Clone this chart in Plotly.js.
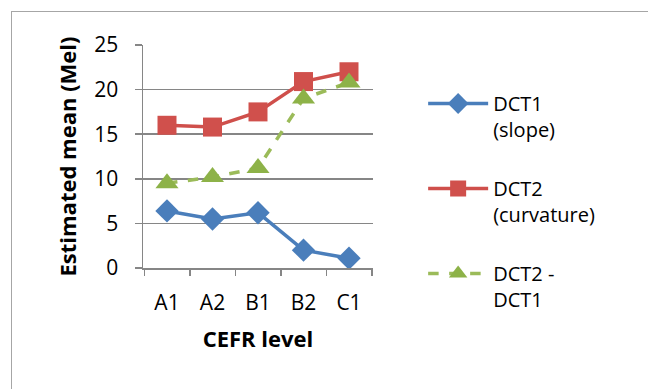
<!DOCTYPE html>
<html>
<head>
<meta charset="utf-8">
<script src="https://cdn.plot.ly/plotly-3.0.1.min.js"></script>
<style>
  html, body { margin: 0; padding: 0; background: #fff; }
  #wrap { position: relative; width: 648px; height: 389px; overflow: hidden; }
  #frame { position: absolute; left: 11px; top: 11px; width: 700px; height: 450px; border: 1.5px solid #a6a6a6; box-sizing: border-box; pointer-events: none; }
  #chart { position: absolute; left: 0; top: 0; width: 648px; height: 389px; }
</style>
</head>
<body>
<div id="wrap">
  <div id="chart"></div>
  <div id="frame"></div>
</div>
<script>
const categories = ["A1", "A2", "B1", "B2", "C1"];
const dct1Slope = [6.4, 5.5, 6.2, 2.0, 1.1];
const dct2Curvature = [16.0, 15.8, 17.5, 20.9, 22.0];
const dct2MinusDct1 = [9.5, 10.2, 11.2, 19.0, 20.8];
const yTicks = [0, 5, 10, 15, 20, 25];

const font = "Open Sans, Noto Sans, sans-serif";

const traces = [
  {
    x: categories, y: dct1Slope, name: "DCT1<br>(slope)", legendgroup: "g1",
    mode: "lines+markers", type: "scatter",
    line: { color: "#4a7ebb", width: 3.5 },
    marker: { symbol: "diamond", size: 18, color: "#4a7ebb" }
  },
  {
    x: categories, y: dct2Curvature, name: "DCT2<br>(curvature)", legendgroup: "g2",
    mode: "lines+markers", type: "scatter",
    line: { color: "#cf4f4b", width: 3.5 },
    marker: { symbol: "square", size: 19, color: "#d0504c" }
  },
  {
    x: categories, y: dct2MinusDct1, name: "DCT2 -<br>DCT1", legendgroup: "g3",
    mode: "lines+markers", type: "scatter",
    line: { color: "#9bbb59", width: 3.5, dash: "dash" },
    marker: { symbol: "triangle-up", size: 20, color: "#8db248" }
  }
];

const layout = {
  width: 648, height: 389,
  margin: { l: 143, r: 275, t: 45, b: 121 },
  paper_bgcolor: "rgba(0,0,0,0)",
  plot_bgcolor: "#ffffff",
  showlegend: true,
  font: { family: font, color: "#000", size: 20 },
  xaxis: {
    type: "category",
    tickvals: categories,
    showline: true, linecolor: "#868686", linewidth: 1.5,
    ticks: "outside", tickson: "boundaries", ticklen: 6, tickcolor: "#868686", tickwidth: 1.5,
    showgrid: false, zeroline: false,
    tickfont: { family: font, size: 21, color: "#000" },
    ticklabelstandoff: 15,
    title: { text: "<b>CEFR level</b>", font: { family: font, size: 22, color: "#000" }, standoff: 17 }
  },
  yaxis: {
    range: [0, 25],
    tickvals: yTicks,
    showline: true, linecolor: "#868686", linewidth: 1.5,
    ticks: "outside", ticklen: 7, tickcolor: "#868686", tickwidth: 1.5,
    showgrid: true, gridcolor: "#868686", gridwidth: 1.5,
    zeroline: false,
    tickfont: { family: font, size: 21, color: "#000" },
    ticklabelstandoff: 12,
    title: { text: "<b>Estimated mean (Mel)</b>", font: { family: font, size: 22, color: "#000" }, standoff: 11 }
  },
  legend: {
    xref: "container", yref: "container",
    x: 0.653, y: 1 - 84 / 389, xanchor: "left", yanchor: "top",
    valign: "top",
    maxheight: 380,
    itemwidth: 60,
    tracegroupgap: 30,
    font: { family: font, size: 20, color: "#000" },
    bgcolor: "rgba(0,0,0,0)"
  }
};

Plotly.newPlot("chart", traces, layout, { displayModeBar: false, staticPlot: true });
</script>
</body>
</html>
